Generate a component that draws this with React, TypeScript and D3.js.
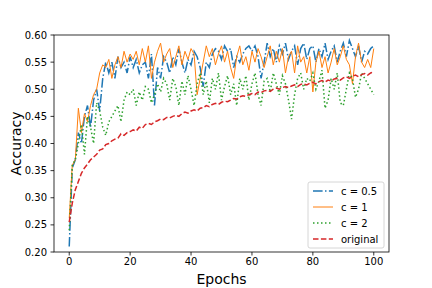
import React from 'react';
import * as d3 from 'd3';

// accuracy per epoch (0..100)
const halfC = [
  0.21, 0.355, 0.37, 0.42, 0.40, 0.45, 0.47, 0.43, 0.48, 0.50,
  0.46, 0.52, 0.55, 0.53, 0.55, 0.52, 0.56, 0.54, 0.55, 0.53,
  0.56, 0.54, 0.555, 0.53, 0.545, 0.55, 0.52, 0.565, 0.47, 0.54,
  0.52, 0.56, 0.55, 0.53, 0.56, 0.545, 0.575, 0.55, 0.53, 0.555,
  0.545, 0.57, 0.56, 0.54, 0.505, 0.55, 0.54, 0.565, 0.575, 0.57,
  0.555, 0.58, 0.57, 0.575, 0.54, 0.56, 0.55, 0.565, 0.575, 0.58,
  0.57, 0.58, 0.56, 0.52, 0.55, 0.585, 0.56, 0.575, 0.55, 0.58,
  0.565, 0.585, 0.555, 0.57, 0.58, 0.545, 0.575, 0.585, 0.555, 0.575,
  0.58, 0.55, 0.575, 0.56, 0.585, 0.555, 0.57, 0.58, 0.55, 0.57,
  0.585, 0.56, 0.59, 0.575, 0.56, 0.58, 0.55, 0.57, 0.565, 0.575,
  0.58,
];

const oneC = [
  0.262, 0.36, 0.37, 0.465, 0.42, 0.455, 0.44, 0.47, 0.49, 0.50,
  0.53, 0.545, 0.54, 0.555, 0.52, 0.545, 0.56, 0.54, 0.57, 0.55,
  0.565, 0.555, 0.57, 0.545, 0.575, 0.55, 0.58, 0.52, 0.55, 0.57,
  0.585, 0.55, 0.565, 0.575, 0.54, 0.56, 0.58, 0.545, 0.57, 0.555,
  0.575, 0.565, 0.49, 0.52, 0.55, 0.58, 0.56, 0.575, 0.545, 0.565,
  0.58, 0.55, 0.57, 0.54, 0.52, 0.56, 0.58, 0.545, 0.56, 0.535,
  0.57, 0.55, 0.575, 0.56, 0.54, 0.56, 0.58, 0.545, 0.57, 0.55,
  0.575, 0.53, 0.56, 0.57, 0.53, 0.58, 0.55, 0.56, 0.53, 0.56,
  0.495, 0.55, 0.57, 0.54, 0.56, 0.53, 0.55, 0.575, 0.545, 0.56,
  0.58, 0.555, 0.545, 0.51, 0.56, 0.585, 0.55, 0.54, 0.555, 0.54,
  0.575,
];

const twoC = [
  0.24, 0.36, 0.37, 0.40, 0.435, 0.38, 0.45, 0.43, 0.40, 0.475,
  0.46, 0.43, 0.415, 0.44, 0.45, 0.46, 0.47, 0.44, 0.48, 0.495,
  0.49, 0.50, 0.47, 0.495, 0.48, 0.505, 0.50, 0.475, 0.49, 0.51,
  0.495, 0.52, 0.51, 0.48, 0.52, 0.505, 0.47, 0.515, 0.49, 0.525,
  0.50, 0.47, 0.51, 0.53, 0.49, 0.515, 0.475, 0.52, 0.50, 0.53,
  0.48, 0.505, 0.525, 0.49, 0.51, 0.47, 0.52, 0.50, 0.525, 0.48,
  0.51, 0.53, 0.49, 0.47, 0.515, 0.52, 0.495, 0.53, 0.51, 0.49,
  0.525, 0.51, 0.48, 0.445, 0.49, 0.52, 0.53, 0.50, 0.52, 0.515,
  0.53, 0.50, 0.515, 0.535, 0.465, 0.48, 0.52, 0.50, 0.53, 0.475,
  0.47, 0.50, 0.53, 0.52, 0.485, 0.50, 0.53, 0.52, 0.51, 0.50,
  0.49,
];

const original = [
  0.255, 0.29, 0.315, 0.33, 0.345, 0.355, 0.362, 0.37, 0.375, 0.38,
  0.388, 0.39, 0.398, 0.40, 0.405, 0.408, 0.41, 0.418, 0.415, 0.42,
  0.422, 0.425, 0.423, 0.43, 0.428, 0.435, 0.437, 0.435, 0.44, 0.442,
  0.445, 0.444, 0.448, 0.447, 0.45, 0.452, 0.45, 0.455, 0.458, 0.456,
  0.46, 0.462, 0.46, 0.465, 0.466, 0.47, 0.468, 0.472, 0.474, 0.472,
  0.476, 0.478, 0.477, 0.48, 0.483, 0.482, 0.486, 0.488, 0.487, 0.49,
  0.492, 0.49, 0.495, 0.494, 0.497, 0.498, 0.496, 0.50, 0.502, 0.50,
  0.503, 0.505, 0.503, 0.506, 0.508, 0.505, 0.509, 0.51, 0.508, 0.511,
  0.513, 0.51, 0.514, 0.516, 0.513, 0.517, 0.515, 0.519, 0.52, 0.517,
  0.521, 0.523, 0.52, 0.524, 0.526, 0.523, 0.527, 0.529, 0.526, 0.53,
  0.533,
];

const seriesNames = ['c = 0.5', 'c = 1', 'c = 2', 'original'];
const xTicks = [0, 20, 40, 60, 80, 100];
const yTicks = [0.2, 0.25, 0.3, 0.35, 0.4, 0.45, 0.5, 0.55, 0.6];

const styles = [
  { color: '#1f77b4', dash: '9.6,2.4,1.5,2.4', width: 1.5 },
  { color: '#ff7f0e', dash: 'none', width: 1 },
  { color: '#2ca02c', dash: '1.5,2.5', width: 1.5 },
  { color: '#d62728', dash: '5.5,2.4', width: 1.5 },
];

const font = 'DejaVu Sans, sans-serif';

export default function App() {
  const width = 432;
  const height = 288;
  const margin = { top: 35, right: 43, bottom: 36, left: 54 };
  const innerW = width - margin.left - margin.right;
  const innerH = height - margin.top - margin.bottom;

  const x = d3.scaleLinear().domain([-5, 105]).range([0, innerW]);
  const y = d3.scaleLinear().domain([0.2, 0.6]).range([innerH, 0]);

  const allSeries = [halfC, oneC, twoC, original];
  const line = d3.line<number>()
    .x((_, i) => x(i))
    .y(d => y(d));

  const legendX = innerW - 81;
  const legendY = innerH - 70;

  return (
    <svg width={width} height={height} style={{ position: 'absolute', left: 0, top: 0, background: '#fff' }}>
      <g transform={`translate(${margin.left},${margin.top})`}>
        <defs>
          <clipPath id="plot-clip">
            <rect x={0} y={0} width={innerW} height={innerH} />
          </clipPath>
        </defs>

        <g clipPath="url(#plot-clip)">
          {allSeries.map((s, k) => (
            <path
              key={seriesNames[k]}
              d={line(s) ?? ''}
              fill="none"
              stroke={styles[k].color}
              strokeWidth={styles[k].width}
              strokeDasharray={styles[k].dash}
            />
          ))}
        </g>

        {/* spines */}
        <rect x={0} y={0} width={innerW} height={innerH} fill="none" stroke="#000" strokeWidth={0.8} />

        {/* x ticks */}
        {xTicks.map(t => (
          <g key={`x${t}`} transform={`translate(${x(t)},${innerH})`}>
            <line y2={3.5} stroke="#000" strokeWidth={0.8} />
            <text y={13} textAnchor="middle" fontSize={10} fontFamily={font} fill="#000">{t}</text>
          </g>
        ))}

        {/* y ticks */}
        {yTicks.map(t => (
          <g key={`y${t}`} transform={`translate(0,${y(t)})`}>
            <line x2={-3.5} stroke="#000" strokeWidth={0.8} />
            <text x={-7} dy="0.35em" textAnchor="end" fontSize={10} fontFamily={font} fill="#000">{t.toFixed(2)}</text>
          </g>
        ))}

        <text x={innerW / 2} y={innerH + 32} textAnchor="middle" fontSize={14} fontFamily={font} fill="#000">Epochs</text>
        <text
          transform={`translate(-33,${innerH / 2}) rotate(-90)`}
          textAnchor="middle"
          fontSize={14}
          fontFamily={font}
          fill="#000"
        >Accuracy</text>

        {/* legend */}
        <g transform={`translate(${legendX},${legendY})`}>
          <rect x={0} y={0} width={76} height={66} rx={2} fill="#fff" fillOpacity={0.8} stroke="#ccc" strokeWidth={0.8} />
          {seriesNames.map((name, k) => (
            <g key={name} transform={`translate(5,${9 + k * 16})`}>
              <line x1={0} x2={20} stroke={styles[k].color} strokeWidth={styles[k].width} strokeDasharray={styles[k].dash} />
              <text x={28} dy="0.35em" fontSize={10} fontFamily={font} fill="#000">{name}</text>
            </g>
          ))}
        </g>
      </g>
    </svg>
  );
}
